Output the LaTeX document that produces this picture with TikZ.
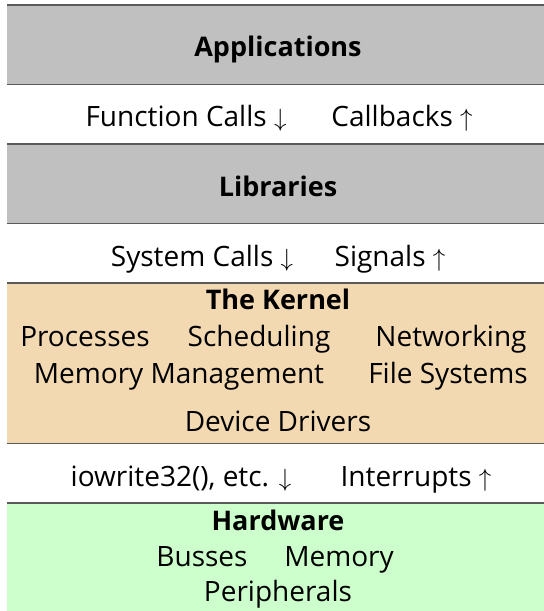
\documentclass[tikz,border=0pt]{standalone}
\usepackage{fontspec}
\setmainfont{Open Sans}
\definecolor{layergray}{HTML}{C0C0C0}
\definecolor{kerneltan}{HTML}{F2D9B1}
\definecolor{hwgreen}{HTML}{CCFFCC}
\definecolor{rulecol}{HTML}{5A5A5A}
\begin{document}
\begin{tikzpicture}[x=1pt,y=-1pt,
  layer/.style={anchor=north west, inner sep=0pt, minimum width=545pt, draw=none},
  lbl/.style={anchor=base, inner sep=0pt, font=\fontsize{28}{33}\selectfont},
  ttl/.style={anchor=base, inner sep=0pt, font=\fontsize{27}{32}\selectfont\bfseries},
  edgeline/.style={draw=rulecol, line width=1.6pt}]
\useasboundingbox (0,0) rectangle (544,611);
\clip (0,0) rectangle (544,611);
% layers
\node[layer, fill=layergray, minimum height=79pt] (apps) at (7,5) {};
\node[layer, fill=layergray, minimum height=79pt] (libs) at (7,144) {};
\node[layer, fill=kerneltan, minimum height=160pt] (kern) at (7,283) {};
\node[layer, fill=hwgreen, minimum height=120pt] (hw) at (7,503) {};
\foreach \b in {apps,libs,kern,hw}{
  \draw[edgeline] (\b.north west) -- (\b.north east);
}
\foreach \b in {apps,libs,kern}{
  \draw[edgeline] (\b.south west) -- (\b.south east);
}
% texts
\node[ttl] (tapps) at (278,56) {Applications};
\node[lbl] (fc) at (186,126) {Function Calls $\downarrow$};
\node[lbl] (cb) at (402,126) {Callbacks $\uparrow$};
\node[ttl] (tlibs) at (278,196) {Libraries};
\node[lbl] (sc) at (202,266) {System Calls $\downarrow$};
\node[lbl] (sg) at (390,266) {Signals $\uparrow$};
\node[ttl] (tkern) at (278,309) {The Kernel};
\node[lbl] (proc) at (85,346) {Processes};
\node[lbl] (sched) at (259,346) {Scheduling};
\node[lbl] (net) at (451,346) {Networking};
\node[lbl] (mm) at (179,383) {Memory Management};
\node[lbl] (fs) at (448,383) {File Systems};
\node[lbl] (dd) at (278,431) {Device Drivers};
\node[lbl] (io) at (181,486) {iowrite32(), etc. $\downarrow$};
\node[lbl] (irq) at (416,486) {Interrupts $\uparrow$};
\node[ttl] (thw) at (278,530) {Hardware};
\node[lbl] (bus) at (202,566) {Busses};
\node[lbl] (mem) at (339,566) {Memory};
\node[lbl] (peri) at (278,601) {Peripherals};
\end{tikzpicture}
\end{document}
